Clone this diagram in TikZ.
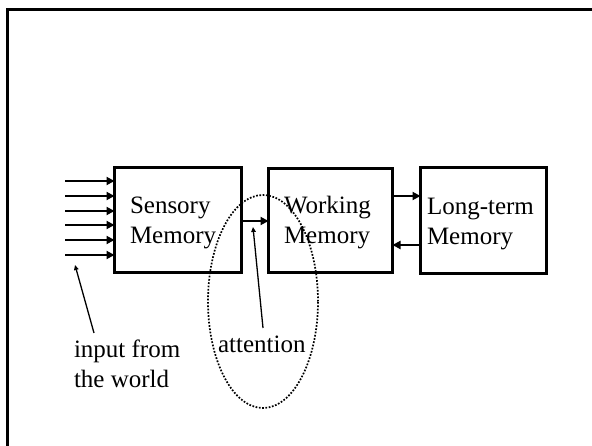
\documentclass[tikz,border=0pt]{standalone}
\usepackage{fontspec}
\setmainfont{Liberation Serif}
\usetikzlibrary{arrows.meta,shapes.geometric}
\begin{document}
\begin{tikzpicture}[x=1pt,y=-1pt,
  membox/.style={draw,line width=3.3pt,inner sep=0pt,outer sep=0pt},
  lbl/.style={inner sep=0pt,outer sep=0pt,anchor=base west,align=left,font=\fontsize{25}{30}\selectfont},
  flow/.style={line width=2.4pt,-{Triangle[length=8pt,width=8pt]}},
  ptr/.style={line width=1.3pt,-{Triangle[length=5pt,width=4.5pt]}},
  attnring/.style={draw,ellipse,line width=1.7pt,dash pattern=on 1.7pt off 1.6pt}]
\useasboundingbox (0,0) rectangle (592,446);
% frame
\draw[line width=3.3pt] (7.5,446) -- (7.5,9.5) -- (592,9.5);
% boxes
\node[membox,minimum width=127pt,minimum height=105pt] (sens) at (178,220) {};
\node[membox,minimum width=124pt,minimum height=104pt] (work) at (330.5,220.5) {};
\node[membox,minimum width=126pt,minimum height=106pt] (ltm) at (483.5,220.5) {};
% texts (anchor = baseline of the last line)
\node[lbl] (senst) at (130,244) {Sensory\\Memory};
\node[lbl] (workt) at (284,244) {Working\\Memory};
\node[lbl] (ltmt) at (427,245) {Long-term\\Memory};
\node[lbl] (inp) at (74,388) {input from\\the world};
\node[lbl] (att) at (218,353) {attention};
% input arrows
\foreach \i/\yy in {1/181,2/196,3/211,4/225,5/240,6/255}{
  \coordinate (in\i) at (65,\yy);
  \draw[flow] (in\i) -- (sens.west |- in\i);
}
% flow arrows
\draw[flow] (sens.east |- 0,221) -- (work.west |- 0,221);
\draw[flow] (work.east |- 0,196) -- (ltm.west |- 0,196);
\draw[flow] (ltm.west |- 0,245) -- (work.east |- 0,245);
% attention ellipse
\node[attnring,minimum width=110pt,minimum height=213pt,inner sep=0pt] (ring) at (263,301.5) {};
% pointers
\coordinate (atail) at (263,328);
\coordinate (atip) at (253,227);
\coordinate (itail) at (94,333);
\coordinate (itip) at (75,265);
\draw[ptr] (atail) -- (atip);
\draw[ptr] (itail) -- (itip);
\end{tikzpicture}
\end{document}
